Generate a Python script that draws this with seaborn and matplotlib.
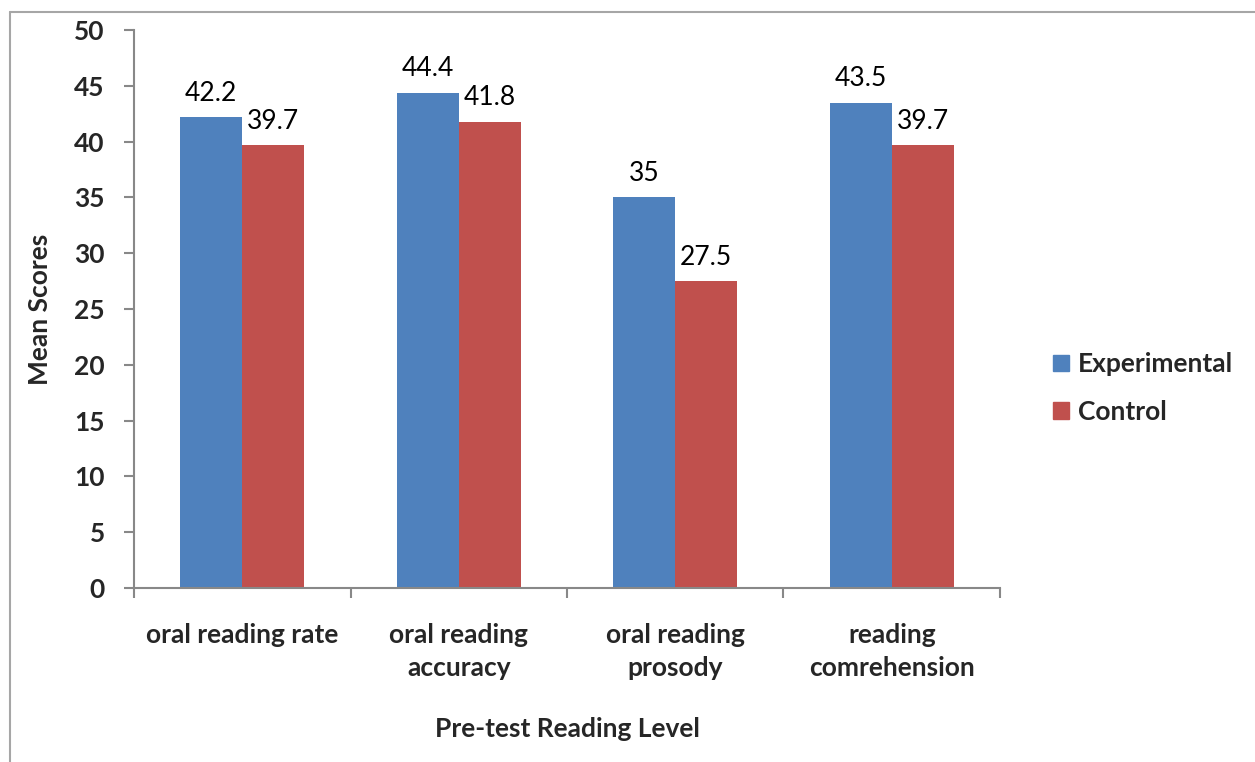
import matplotlib
matplotlib.use("Agg")
import matplotlib.pyplot as plt
from matplotlib.lines import Line2D
import seaborn as sns
import pandas as pd

categories = ["oral reading rate", "oral reading\naccuracy", "oral reading\nprosody", "reading\ncomrehension"]
experimental = [42.2, 44.4, 35, 43.5]
control = [39.7, 41.8, 27.5, 39.7]
groups = ["Experimental", "Control"]
colors = ["#4F81BD", "#C0504D"]

df = pd.DataFrame({
    "category": categories * 2,
    "group": [groups[0]] * len(categories) + [groups[1]] * len(categories),
    "score": experimental + control,
})

sns.set_theme(style="white")
plt.rcParams["font.family"] = ["Lato", "DejaVu Sans"]

fig = plt.figure(figsize=(12.55, 7.62), dpi=100)
ax = fig.add_axes([0.1068, 0.2283, 0.690, 0.7323])

sns.barplot(data=df, x="category", y="score", hue="group", order=categories,
            hue_order=groups, palette=colors, width=0.573, gap=0,
            saturation=1, ax=ax, edgecolor="none", linewidth=0, legend=False)

for cont in ax.containers:
    ax.bar_label(cont, labels=[f"{v:g}" for v in cont.datavalues], padding=8,
                 fontsize=19, color="black")

ax.set_ylim(0, 50)
ax.set_xlim(-0.5, len(categories) - 0.5)
ax.set_yticks(range(0, 51, 5))
ax.set_xticks(range(len(categories)))
ax.set_xticks([i - 0.5 for i in range(len(categories) + 1)], minor=True)

spine_color = "#888888"
for side in ["top", "right"]:
    ax.spines[side].set_visible(False)
for side in ["left", "bottom"]:
    ax.spines[side].set_color(spine_color)
    ax.spines[side].set_linewidth(1.5)

ax.tick_params(axis="y", which="major", direction="out", length=7, width=1.5,
               color=spine_color, pad=14, labelsize=19, left=True)
ax.tick_params(axis="x", which="major", length=0, pad=25, labelsize=19)
ax.tick_params(axis="x", which="minor", direction="out", length=7, width=1.5,
               color=spine_color, bottom=True)
for lab in ax.get_yticklabels() + ax.get_xticklabels():
    lab.set_fontweight("bold")
    lab.set_linespacing(1.45)

ax.set_xlabel("Pre-test Reading Level", fontsize=19, fontweight="bold", labelpad=27)
ax.set_ylabel("Mean Scores", fontsize=19, fontweight="bold", labelpad=16)

handles = [plt.Rectangle((0, 0), 1, 1, color=c) for c in colors]
leg = ax.legend(handles, groups, loc="center left", bbox_to_anchor=(1.061, 0.358),
                frameon=False, fontsize=19, handlelength=0.6, handleheight=0.6,
                handletextpad=0.35, labelspacing=0.9, borderpad=0, borderaxespad=0)
for t in leg.get_texts():
    t.set_fontweight("bold")

# outer chart frame
fx = 10 / 1255
fy = 1 - 12 / 762
fig.add_artist(Line2D([fx, fx], [0, fy], transform=fig.transFigure, color="#a6a6a6", lw=1.5))
fig.add_artist(Line2D([fx, 1], [fy, fy], transform=fig.transFigure, color="#a6a6a6", lw=1.5))

fig.savefig("out.png", dpi=100, facecolor="white")
